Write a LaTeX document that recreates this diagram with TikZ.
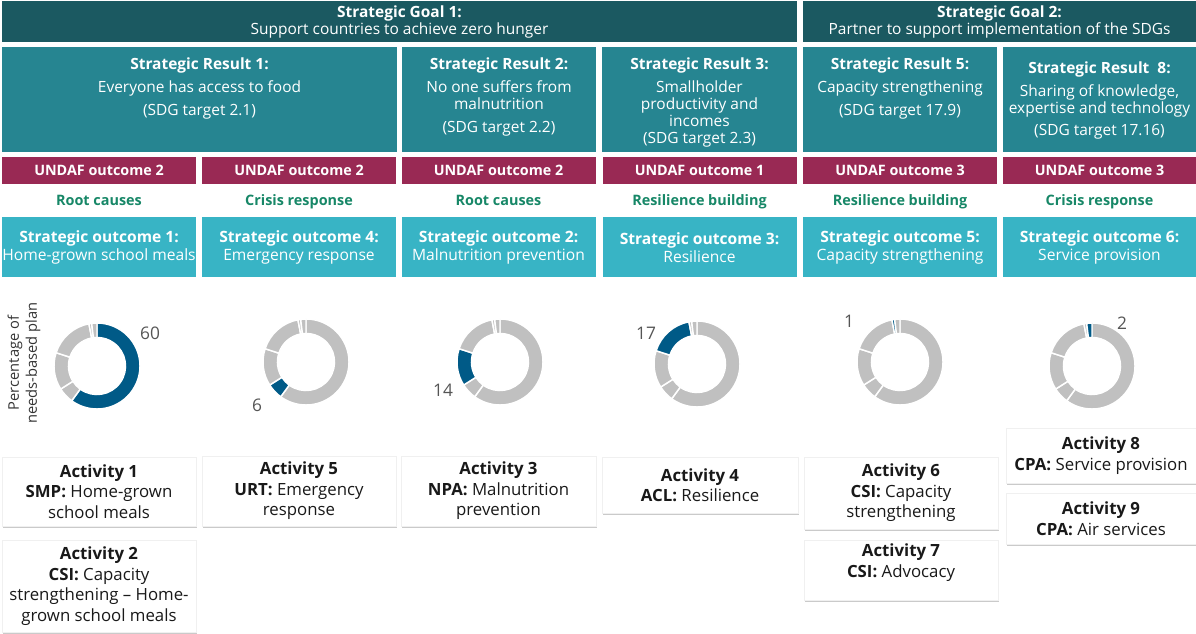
\documentclass[tikz,border=0pt]{standalone}
\usepackage{fontspec}
\setmainfont{Open Sans}
\usepackage{xcolor}
\usetikzlibrary{positioning,shadows}

\definecolor{goalteal}{RGB}{27,89,97}
\definecolor{resteal}{RGB}{38,133,145}
\definecolor{undafred}{RGB}{153,41,84}
\definecolor{outcyan}{RGB}{56,180,197}
\definecolor{focusgreen}{RGB}{23,135,103}
\definecolor{donutblue}{RGB}{0,90,135}
\definecolor{donutgray}{RGB}{192,192,192}
\definecolor{numgray}{RGB}{85,85,85}

\begin{document}
\begin{tikzpicture}[
        x=0.75pt, y=-0.75pt,
        box/.style={rectangle, inner sep=0pt, outer sep=0pt, text=white, align=center},
        goal/.style={box, fill=goalteal, minimum height=30.75pt,
            font=\fontsize{11.6}{12.75}\selectfont},
        result/.style={box, fill=resteal, minimum height=78.75pt},
        restext/.style={text=white, align=center, inner sep=0pt,
            font=\fontsize{11.6}{12.75}\selectfont},
        undaf/.style={box, fill=undafred, minimum width=145.5pt, minimum height=20.25pt,
            font=\fontsize{10.75}{12}\selectfont\bfseries},
        focus/.style={text=focusgreen, inner sep=0pt, anchor=base,
            font=\fontsize{10.8}{12}\selectfont\bfseries},
        outcome/.style={box, fill=outcyan, minimum width=145.5pt, minimum height=45pt,
            font=\fontsize{11.7}{13.5}\selectfont},
        activity/.style={rectangle, fill=white, draw=black!6, align=center, inner sep=0pt,
            minimum width=145.5pt, text=black!90,
            drop shadow={shadow xshift=1pt, shadow yshift=-1.2pt, fill=black!35, opacity=.6},
            font=\fontsize{12.6}{15.4}\selectfont},
        share/.style={text=numgray, inner sep=0pt, font=\fontsize{13}{15}\selectfont}
    ]
    \useasboundingbox (0,0) rectangle (1196,634);

    % strategic goals
    \node[goal, minimum width=596.25pt] (goal1) at (399.5,21.5)
        {\textbf{Strategic Goal 1:}\\Support countries to achieve zero hunger};
    \node[goal, minimum width=294.75pt] (goal2) at (999.5,21.5)
        {\textbf{Strategic Goal 2:}\\Partner to support implementation of the SDGs};

    % strategic results
    \node[result, minimum width=296.25pt] (sr1) at (199.5,99.5) {};
    \node[result, minimum width=145.5pt]  (sr2) at (499,99.5) {};
    \node[result, minimum width=146.25pt] (sr3) at (699.5,99.5) {};
    \node[result, minimum width=145.5pt]  (sr5) at (900,99.5) {};
    \node[result, minimum width=144.75pt] (sr8) at (1099.5,99.5) {};

    \node[restext, below=7.5pt of sr1.north] (sr1text)
        {\textbf{Strategic Result 1:}\\[4.5pt]Everyone has access to food\\[4.5pt](SDG target 2.1)};
    \node[restext, below=7.5pt of sr2.north] (sr2text)
        {\textbf{Strategic Result 2:}\\[4.5pt]No one suffers from\\malnutrition\\[4.5pt](SDG target 2.2)};
    \node[restext, below=7.5pt of sr3.north] (sr3text)
        {\textbf{Strategic Result 3:}\\[4.5pt]Smallholder\\productivity and\\incomes\\(SDG target 2.3)};
    \node[restext, below=7.5pt of sr5.north] (sr5text)
        {\textbf{Strategic Result 5:}\\[4.5pt]Capacity strengthening\\[4.5pt](SDG target 17.9)};
    \node[restext, below=10.5pt of sr8.north] (sr8text)
        {\textbf{Strategic Result~ 8:}\\[4.5pt]Sharing of knowledge,\\expertise and technology\\[4pt](SDG target 17.16)};

    % UNDAF outcomes
    \node[undaf] (un1) at (99,170.5)    {UNDAF outcome 2};
    \node[undaf] (un2) at (299,170.5)   {UNDAF outcome 2};
    \node[undaf] (un3) at (498.5,170.5) {UNDAF outcome 2};
    \node[undaf] (un4) at (699.5,170.5) {UNDAF outcome 1};
    \node[undaf] (un5) at (900,170.5)   {UNDAF outcome 3};
    \node[undaf] (un6) at (1099.5,170.5){UNDAF outcome 3};

    % focus areas
    \node[focus] (fa1) at (99,206)    {Root causes};
    \node[focus] (fa2) at (299,206)   {Crisis response};
    \node[focus] (fa3) at (498.5,206) {Root causes};
    \node[focus] (fa4) at (699.5,206) {Resilience building};
    \node[focus] (fa5) at (900,206)   {Resilience building};
    \node[focus] (fa6) at (1099.5,206){Crisis response};

    % strategic outcomes
    \node[outcome] (so1) at (99,247.5)     {\textbf{Strategic outcome 1:}\\Home-grown school meals};
    \node[outcome] (so4) at (299,247.5)    {\textbf{Strategic outcome 4:}\\Emergency response};
    \node[outcome] (so2) at (498.5,247.5)  {\textbf{Strategic outcome 2:}\\Malnutrition prevention};
    \node[outcome] (so3) at (699.5,247.5)  {\textbf{Strategic outcome 3:}\\Resilience};
    \node[outcome] (so5) at (900,247.5)    {\textbf{Strategic outcome 5:}\\Capacity strengthening};
    \node[outcome] (so6) at (1099.5,247.5) {\textbf{Strategic outcome 6:}\\Service provision};

    % share of the needs-based plan, one ring per outcome
    \node[rotate=90, align=center, inner sep=0pt, text=black!80,
        font=\fontsize{11}{13.5}\selectfont] (nbp) at (24,363) {Percentage of\\needs-based plan};
    \foreach \cx/\cy/\hi in {97/366/1, 306/362/2, 500/362/3, 697/364/4, 900/362/5, 1092/366/6}
        \foreach \a/\b [count=\i] in {90/-126, -126/-147.6, -147.6/-198, -198/-259.2, -259.2/-262.8, -262.8/-270} {
            \ifnum\i=\hi\relax\def\segcol{donutblue}\else\def\segcol{donutgray}\fi
            \filldraw[fill=\segcol, draw=white, line width=1.1pt]
                (\cx,\cy) ++(\a:32.25pt) arc[start angle=\a, end angle=\b, radius=32.25pt]
                -- ++(\b:-10.85pt) arc[start angle=\b, end angle=\a, radius=21.4pt] -- cycle;
        }
    \node[share] (pc1) at (150,333)  {60};
    \node[share] (pc4) at (257,405)  {6};
    \node[share] (pc2) at (443,390)  {14};
    \node[share] (pc3) at (646,333)  {17};
    \node[share] (pc5) at (849,321)  {1};
    \node[share] (pc6) at (1122,323) {2};

    % activities
    \node[activity, minimum height=51.75pt] (act1) at (99,491.5)
        {\textbf{Activity 1}\\\textbf{SMP:} Home-grown\\school meals};
    \node[activity, minimum height=69pt] (act2) at (99,586)
        {\textbf{Activity 2}\\\textbf{CSI:} Capacity\\strengthening – Home-\\grown school meals};
    \node[activity, minimum height=52.5pt] (act5) at (299,491)
        {\textbf{Activity 5}\\\textbf{URT:} Emergency\\response};
    \node[activity, minimum width=146.25pt, minimum height=52.5pt] (act3) at (498.5,491)
        {\textbf{Activity 3}\\\textbf{NPA:} Malnutrition\\prevention};
    \node[activity, minimum width=147pt, minimum height=42pt] (act4) at (700,485)
        {\textbf{Activity 4}\\\textbf{ACL:} Resilience};
    \node[activity, minimum height=54pt] (act6) at (901,493)
        {\textbf{Activity 6}\\\textbf{CSI:} Capacity\\strengthening};
    \node[activity, minimum height=45pt, text depth=14pt] (act7) at (901,570)
        {\textbf{Activity 7}\\\textbf{CSI:} Advocacy};
    \node[activity, minimum width=142.5pt, minimum height=41.25pt] (act8) at (1101,455.5)
        {\textbf{Activity 8}\\\textbf{CPA:} Service provision};
    \node[activity, minimum width=142.5pt, minimum height=38.25pt] (act9) at (1101,518.5)
        {\textbf{Activity 9}\\\textbf{CPA:} Air services};
\end{tikzpicture}
\end{document}
